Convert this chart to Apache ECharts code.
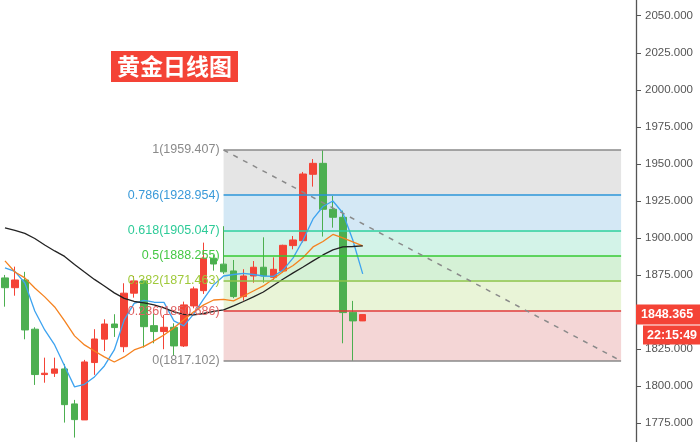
<!DOCTYPE html>
<html>
<head>
<meta charset="utf-8">
<script src="https://cdn.jsdelivr.net/npm/echarts@6/dist/echarts.min.js"></script>
<style>
html,body{margin:0;padding:0;background:#fff;}
#main{width:700px;height:442px;}
</style>
</head>
<body>
<div id="main"></div>
<script>
// ---- data ----
const titleText = '黄金日线图';
const slotCount = 64; // candle slots on the x axis (37 used, rest empty future space)
const categories = Array.from({length: slotCount}, (_, i) => 'D' + (i + 1));

// [open, close, low, high]
const candles = [
  [1873.1, 1866.5, 1853.7, 1875.1],
  [1866.5, 1871.7, 1861.1, 1880.7],
  [1871.7, 1838.0, 1831.7, 1877.2],
  [1838.5, 1807.9, 1800.9, 1839.8],
  [1807.9, 1808.8, 1802.4, 1819.3],
  [1808.8, 1811.7, 1806.3, 1819.3],
  [1811.7, 1787.6, 1775.5, 1815.1],
  [1788.1, 1777.5, 1765.4, 1790.8],
  [1777.3, 1816.4, 1777.3, 1817.8],
  [1816.0, 1831.9, 1807.7, 1838.5],
  [1831.8, 1842.0, 1823.8, 1845.2],
  [1842.0, 1839.6, 1833.3, 1848.6],
  [1826.7, 1862.8, 1823.0, 1869.5],
  [1862.8, 1871.1, 1859.8, 1874.4],
  [1871.1, 1840.2, 1826.1, 1871.7],
  [1840.9, 1836.9, 1829.0, 1849.0],
  [1836.9, 1839.8, 1825.0, 1848.1],
  [1839.8, 1827.2, 1820.4, 1842.5],
  [1827.2, 1854.9, 1826.5, 1857.1],
  [1854.2, 1865.7, 1852.6, 1867.2],
  [1864.5, 1886.4, 1862.3, 1896.9],
  [1886.4, 1882.5, 1878.0, 1888.5],
  [1882.4, 1877.2, 1875.8, 1908.0],
  [1877.8, 1860.5, 1859.4, 1885.2],
  [1860.5, 1874.4, 1857.8, 1879.0],
  [1874.4, 1880.3, 1869.9, 1884.5],
  [1880.3, 1874.4, 1869.9, 1900.5],
  [1873.5, 1878.9, 1871.7, 1887.0],
  [1877.8, 1895.1, 1876.7, 1895.5],
  [1894.9, 1898.7, 1892.4, 1901.4],
  [1898.2, 1943.2, 1897.0, 1944.6],
  [1943.0, 1950.4, 1934.7, 1953.3],
  [1950.4, 1919.4, 1901.0, 1959.407],
  [1919.4, 1914.0, 1907.0, 1928.4],
  [1914.0, 1849.7, 1829.0, 1918.5],
  [1850.0, 1844.1, 1817.102, 1857.6],
  [1844.1, 1848.365, 1844.0, 1848.4]
];

const maFast = [1879.8, 1877.5, 1869.7, 1850.8, 1838.0, 1827.9, 1813.7, 1799.6, 1801.3, 1806.3,
  1813.7, 1824.5, 1844.8, 1855.9, 1857.9, 1856.7, 1856.6, 1844.1, 1840.7, 1848.8,
  1858.9, 1868.4, 1874.4, 1875.4, 1876.1, 1875.4, 1874.4, 1874.1, 1878.5, 1886.6,
  1898.7, 1912.9, 1921.3, 1925.0, 1916.9, 1898.7, 1875.8];
const maMid = [1884.6, 1877.1, 1873.1, 1866.3, 1860.3, 1853.5, 1844.1, 1834.0, 1827.9, 1823.8,
  1819.8, 1816.4, 1819.8, 1824.5, 1826.9, 1830.6, 1834.6, 1839.4, 1844.8, 1850.2,
  1854.9, 1858.2, 1858.6, 1857.6, 1860.9, 1864.3, 1867.7, 1872.4, 1877.5, 1881.5,
  1886.9, 1894.0, 1897.7, 1902.4, 1900.1, 1897.4, 1894.7];
const maSlow = [1906.8, 1905.1, 1903.1, 1899.7, 1895.3, 1891.3, 1887.6, 1882.2, 1877.1, 1872.1,
  1867.7, 1863.0, 1859.3, 1857.2, 1856.2, 1854.9, 1852.9, 1850.2, 1848.5, 1848.1,
  1849.1, 1850.5, 1851.5, 1854.2, 1857.2, 1860.3, 1863.6, 1868.0, 1872.4, 1876.5,
  1880.5, 1884.6, 1888.6, 1892.0, 1894.0, 1894.3, 1894.7];

const fibRatios = ['1', '0.786', '0.618', '0.5', '0.382', '0.236', '0'];
const fibPrices = [1959.407, 1928.954, 1905.047, 1888.255, 1871.463, 1850.686, 1817.102];
const fibStartSlot = 22;
const fibEndSlot = 62;

const yTicks = [1775, 1800, 1825, 1850, 1875, 1900, 1925, 1950, 1975, 2000, 2025, 2050];
const yMin = 1762.4, yMax = 2060.6;
const lastPrice = 1848.365;
const lastTime = '22:15:49';

// ---- styles ----
const upColor = '#f44336', downColor = '#4caf50';
const fibLineColors = ['#8a8a8a', '#2a95d8', '#2ccf9e', '#33c933', '#8bc34a', '#e03a3a', '#8a8a8a'];
const fibLabelColors = ['#8a8a8a', '#3a9ad9', '#2ecb98', '#45c845', '#9fc93a', '#e06262', '#8a8a8a'];
const fibFills = ['#e5e5e5', '#d4e8f5', '#d3f3e8', '#d5f1d6', '#e9f4d7', '#f4d6d6'];

const fibLines = fibPrices.map((p, k) => ([
  {coord: [fibStartSlot, p], lineStyle: {color: fibLineColors[k], width: 1.5, type: 'solid'},
   label: {show: true, position: 'start', distance: 4, color: fibLabelColors[k],
     formatter: fibRatios[k] + '(' + p.toFixed(3) + ')', fontSize: 12.5, fontFamily: 'Liberation Sans, Arial, sans-serif'}},
  {coord: [fibEndSlot, p]}
]));
fibLines.push([
  {coord: [fibStartSlot, fibPrices[0]], lineStyle: {color: '#8a8a8a', width: 1.5, type: [5, 6]}, label: {show: false}},
  {coord: [fibEndSlot, fibPrices[fibPrices.length - 1]]}
]);
const fibAreas = fibFills.map((c, k) => ([
  {coord: [fibStartSlot, fibPrices[k]], itemStyle: {color: c, opacity: 1}},
  {coord: [fibEndSlot, fibPrices[k + 1]]}
]));

const chart = echarts.init(document.getElementById('main'), null, {renderer: 'canvas'});
const option = {
  animation: false,
  backgroundColor: '#ffffff',
  title: {
    text: titleText,
    left: 111, top: 51,
    padding: [4, 6],
    backgroundColor: upColor,
    textStyle: {color: '#fff', fontSize: 23, fontWeight: 'bold', fontFamily: 'Noto Sans CJK SC', lineHeight: 23}
  },
  grid: {left: -3.5, right: 64, top: 0, bottom: 0},
  xAxis: {
    type: 'category', data: categories, boundaryGap: true,
    axisLine: {show: false}, axisTick: {show: false}, axisLabel: {show: false}, splitLine: {show: false}
  },
  yAxis: {
    type: 'value', position: 'right', min: yMin, max: yMax, scale: true,
    axisLine: {show: true, lineStyle: {color: '#555', width: 1.3}},
    axisTick: {show: true, length: 5, customValues: yTicks, lineStyle: {color: '#555'}},
    axisLabel: {show: true, customValues: yTicks, margin: 9, color: '#555', fontSize: 11.5,
      fontFamily: 'Liberation Sans, Arial, sans-serif', formatter: v => v.toFixed(3)},
    splitLine: {show: false}
  },
  series: [
    {
      name: 'fib', type: 'line', data: [], z: 1, silent: true,
      markArea: {silent: true, data: fibAreas},
      markLine: {silent: true, symbol: ['none', 'none'], data: fibLines}
    },
    {
      name: 'K', type: 'candlestick', data: candles, z: 3, barWidth: 7, clip: false,
      itemStyle: {color: upColor, color0: downColor, borderColor: upColor, borderColor0: downColor, borderWidth: 1}
    },
    {name: 'MA5', type: 'line', data: maFast, z: 4, showSymbol: false, clip: false,
      lineStyle: {color: '#3da3f0', width: 1.3}},
    {name: 'MA10', type: 'line', data: maMid, z: 4, showSymbol: false, clip: false,
      lineStyle: {color: '#f5821f', width: 1.3}},
    {name: 'MA30', type: 'line', data: maSlow, z: 4, showSymbol: false, clip: false,
      lineStyle: {color: '#222', width: 1.3}}
  ]
};
chart.setOption(option);

const yPix = chart.convertToPixel({yAxisIndex: 0}, lastPrice);
chart.setOption({
  graphic: [
    {type: 'rect', shape: {x: 636, y: yPix - 10, width: 64, height: 20}, style: {fill: upColor}, z: 100},
    {type: 'text', x: 641, y: yPix, style: {text: lastPrice.toFixed(3), fill: '#fff', fontSize: 12.5, fontWeight: 'bold',
      fontFamily: 'Liberation Sans, Arial, sans-serif', verticalAlign: 'middle', align: 'left'}, z: 101},
    {type: 'rect', shape: {x: 643, y: yPix + 11, width: 57, height: 19}, style: {fill: upColor}, z: 100},
    {type: 'text', x: 647, y: yPix + 20.5, style: {text: lastTime, fill: '#fff', fontSize: 12.5, fontWeight: 'bold',
      fontFamily: 'Liberation Sans, Arial, sans-serif', verticalAlign: 'middle', align: 'left'}, z: 101}
  ]
});
</script>
</body>
</html>
